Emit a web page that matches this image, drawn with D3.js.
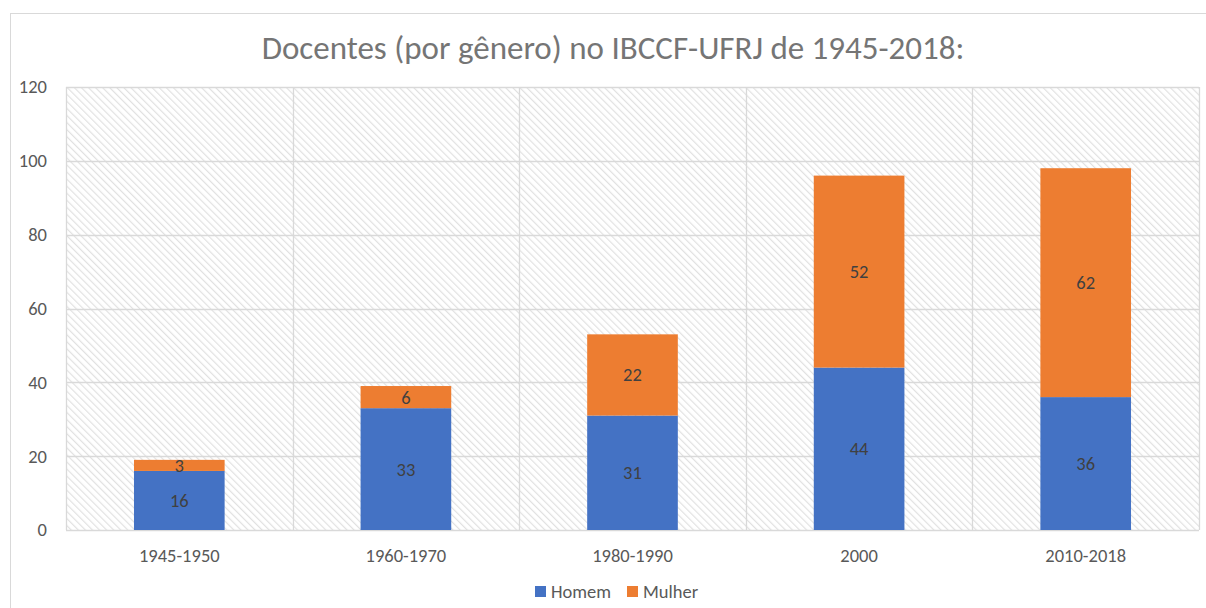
<!DOCTYPE html>
<html>
<head>
<meta charset="utf-8">
<script src="https://cdn.jsdelivr.net/npm/d3@7"></script>
<style>
  html, body { margin: 0; padding: 0; background: #fff; }
  svg { display: block; font-family: Carlito, Calibri, Lato, "Open Sans", sans-serif; }
</style>
</head>
<body>
<svg id="chart" width="1206" height="608"></svg>
<script>
// chart data
const categories = ["1945-1950", "1960-1970", "1980-1990", "2000", "2010-2018"];
const homem = [16, 33, 31, 44, 36];
const mulher = [3, 6, 22, 52, 62];
const seriesNames = ["Homem", "Mulher"];
const yTicks = [0, 20, 40, 60, 80, 100, 120];
const titleText = "Docentes (por gênero) no IBCCF-UFRJ de 1945-2018:";

const colors = {Homem: "#4472C4", Mulher: "#ED7D31"};

const svg = d3.select("#chart");
const plot = {left: 66, right: 1199, top: 87, bottom: 530};
const FONT = 18.5;

// hatch pattern for plot background
const defs = svg.append("defs");
const pat = defs.append("pattern")
	.attr("id", "hatch")
	.attr("patternUnits", "userSpaceOnUse")
	.attr("width", 5)
	.attr("height", 5)
	.attr("patternTransform", "rotate(-45)");
pat.append("rect").attr("width", 5).attr("height", 5).attr("fill", "#fff");
pat.append("line")
	.attr("x1", 0).attr("y1", 0).attr("x2", 0).attr("y2", 5)
	.attr("stroke", "#e1e1e1")
	.attr("stroke-width", 2.4);

// outer chart frame
svg.append("rect")
	.attr("x", 10.5).attr("y", 13.5)
	.attr("width", 1210).attr("height", 610)
	.attr("fill", "#fff")
	.attr("stroke", "#d9d9d9");

const x = d3.scaleBand()
	.domain(categories)
	.range([plot.left, plot.right])
	.padding(0);

const y = d3.scaleLinear()
	.domain([0, 120])
	.range([plot.bottom, plot.top]);

svg.append("rect")
	.attr("x", plot.left).attr("y", plot.top)
	.attr("width", plot.right - plot.left)
	.attr("height", plot.bottom - plot.top)
	.attr("fill", "url(#hatch)");

// gridlines
svg.append("g")
	.selectAll("line")
	.data(yTicks)
	.join("line")
	.attr("x1", plot.left).attr("x2", plot.right)
	.attr("y1", d => Math.round(y(d)) + 0.5)
	.attr("y2", d => Math.round(y(d)) + 0.5)
	.attr("stroke", "#d9d9d9")
	.attr("stroke-width", 1.3);

const bounds = categories.map(c => x(c)).concat([plot.right]);
svg.append("g")
	.selectAll("line")
	.data(bounds)
	.join("line")
	.attr("x1", d => Math.round(d) + 0.5).attr("x2", d => Math.round(d) + 0.5)
	.attr("y1", plot.top).attr("y2", plot.bottom)
	.attr("stroke", "#d9d9d9")
	.attr("stroke-width", 1.3);

// stacked bars
const rows = categories.map((c, i) => ({cat: c, Homem: homem[i], Mulher: mulher[i]}));
const stacked = d3.stack().keys(seriesNames)(rows);
const barW = x.bandwidth() * 0.4;

const layers = svg.append("g")
	.selectAll("g")
	.data(stacked)
	.join("g")
	.attr("fill", d => colors[d.key]);

layers.selectAll("rect")
	.data(d => d)
	.join("rect")
	.attr("x", d => x(d.data.cat) + (x.bandwidth() - barW) / 2)
	.attr("width", barW)
	.attr("y", d => y(d[1]))
	.attr("height", d => y(d[0]) - y(d[1]));

// data labels
layers.selectAll("text")
	.data(d => d)
	.join("text")
	.attr("x", d => x(d.data.cat) + x.bandwidth() / 2)
	.attr("y", d => (y(d[0]) + y(d[1])) / 2)
	.attr("dy", "0.35em")
	.attr("text-anchor", "middle")
	.attr("fill", "#404040")
	.attr("font-size", FONT)
	.text(d => d[1] - d[0]);

// y axis labels
svg.append("g")
	.selectAll("text")
	.data(yTicks)
	.join("text")
	.attr("x", 47)
	.attr("y", d => y(d))
	.attr("dy", "0.35em")
	.attr("text-anchor", "end")
	.attr("fill", "#595959")
	.attr("font-size", FONT)
	.text(d => d);

// x axis labels
svg.append("g")
	.selectAll("text")
	.data(categories)
	.join("text")
	.attr("x", d => x(d) + x.bandwidth() / 2)
	.attr("y", 562)
	.attr("text-anchor", "middle")
	.attr("fill", "#595959")
	.attr("font-size", FONT)
	.text(d => d);

// title
svg.append("text")
	.attr("x", 613)
	.attr("y", 59)
	.attr("text-anchor", "middle")
	.attr("fill", "#757575")
	.attr("font-size", 33)
	.attr("font-weight", 300)
	.text(titleText);

// legend
const legendX = [535, 627];
const legend = svg.append("g")
	.selectAll("g")
	.data(seriesNames)
	.join("g")
	.attr("transform", (d, i) => `translate(${legendX[i]},586)`);
legend.append("rect")
	.attr("width", 11).attr("height", 11)
	.attr("fill", d => colors[d]);
legend.append("text")
	.attr("x", 16).attr("y", 12)
	.attr("fill", "#595959")
	.attr("font-size", FONT)
	.text(d => d);
</script>
</body>
</html>
